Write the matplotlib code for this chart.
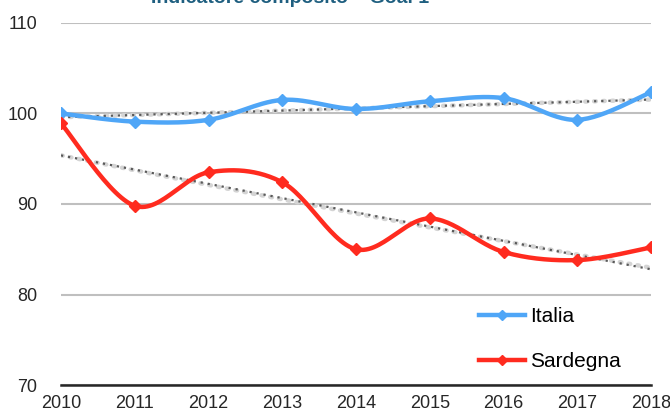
import numpy as np
import matplotlib.pyplot as plt

plt.rcParams['font.family'] = ['Liberation Sans', 'DejaVu Sans']

#%% Data
years = [2010, 2011, 2012, 2013, 2014, 2015, 2016, 2017, 2018]
italia = [100.0, 99.1, 99.3, 101.5, 100.5, 101.35, 101.7, 99.3, 102.35]
sardegna = [98.9, 89.8, 93.5, 92.4, 85.0, 88.4, 84.7, 83.8, 85.2]

blue = '#4fa6f7'
red = '#ff2b1f'

#%% Functions

def smooth(x, y, n=30):
    # Excel-like smoothed line (Catmull-Rom bezier), only for drawing
    x = np.asarray(x, float)
    y = np.asarray(y, float)
    px = np.concatenate([[x[0]], x, [x[-1]]])
    py = np.concatenate([[y[0]], y, [y[-1]]])
    xs, ys = [], []
    t = np.linspace(0, 1, n)
    for i in range(1, len(px) - 2):
        p0 = np.array([px[i], py[i]])
        p3 = np.array([px[i+1], py[i+1]])
        c1 = p0 + (p3 - np.array([px[i-1], py[i-1]])) / 6
        c2 = p3 - (np.array([px[i+2], py[i+2]]) - p0) / 6
        b = ((1-t)**3)[:, None]*p0 + (3*(1-t)**2*t)[:, None]*c1 \
            + (3*(1-t)*t**2)[:, None]*c2 + (t**3)[:, None]*p3
        xs.append(b[:, 0])
        ys.append(b[:, 1])
    return np.concatenate(xs), np.concatenate(ys)

def lin_trend(x, y):
    k = np.polyfit(x, y, 1)
    return np.polyval(k, x)

def exp_trend(x, y):
    k = np.polyfit(x, np.log(y), 1)
    return np.exp(np.polyval(k, x))

#%% Plot
fig = plt.figure(figsize=(6.7, 4.12), dpi=100)
ax = fig.add_axes([61/670, 1-385/412, 590/670, (385-23)/412])

x = np.array(years, float)
for vals in (italia, sardegna):
    ax.plot(x, exp_trend(x, vals), color='#d4d4d4', lw=3.2, ls=(0, (0.4, 1.6)),
            dash_capstyle='round', zorder=2)
    ax.plot(x, lin_trend(x, vals), color='#595959', lw=1.6, ls=(0, (1, 2.2)),
            zorder=3)

for vals, c, lab in ((italia, blue, 'Italia'), (sardegna, red, 'Sardegna')):
    sx, sy = smooth(years, vals)
    ax.plot(sx, sy, color=c, lw=3.2, solid_capstyle='round', zorder=4)
    ax.plot(years, vals, ls='none', marker='D', ms=6, color=c, zorder=5)

ax.set_xlim(2010, 2018)
ax.set_ylim(70, 110)
ax.set_yticks([70, 80, 90, 100, 110])
ax.set_xticks(years)
ax.grid(axis='y', color='#bfbfbf', lw=1.5)
ax.set_axisbelow(True)
for s in ['top', 'right', 'left']:
    ax.spines[s].set_visible(False)
ax.spines['bottom'].set_color('#262626')
ax.spines['bottom'].set_linewidth(1.8)
ax.spines['bottom'].set_zorder(6)
ax.tick_params(length=0, labelsize=13, colors='#262626')
ax.tick_params(axis='y', pad=17)
ax.tick_params(axis='x', pad=7)

h1, = ax.plot([], [], color=blue, lw=3.2, marker='D', ms=5.5)
h2, = ax.plot([], [], color=red, lw=3.2, marker='D', ms=5.5)
fig.legend([h1, h2], ['Italia', 'Sardegna'], loc='upper left',
           bbox_to_anchor=(479/670, 1-307/412), frameon=False, fontsize=15,
           handlelength=2.2, handletextpad=0.25, labelspacing=1.25,
           borderpad=0, borderaxespad=0)

fig.text(290/670, 1-3/412, 'Indicatore composito – Goal 1', ha='center',
         va='baseline', fontsize=14, fontweight='bold', color='#1f5f80')

plt.savefig('out.png', dpi=100)
